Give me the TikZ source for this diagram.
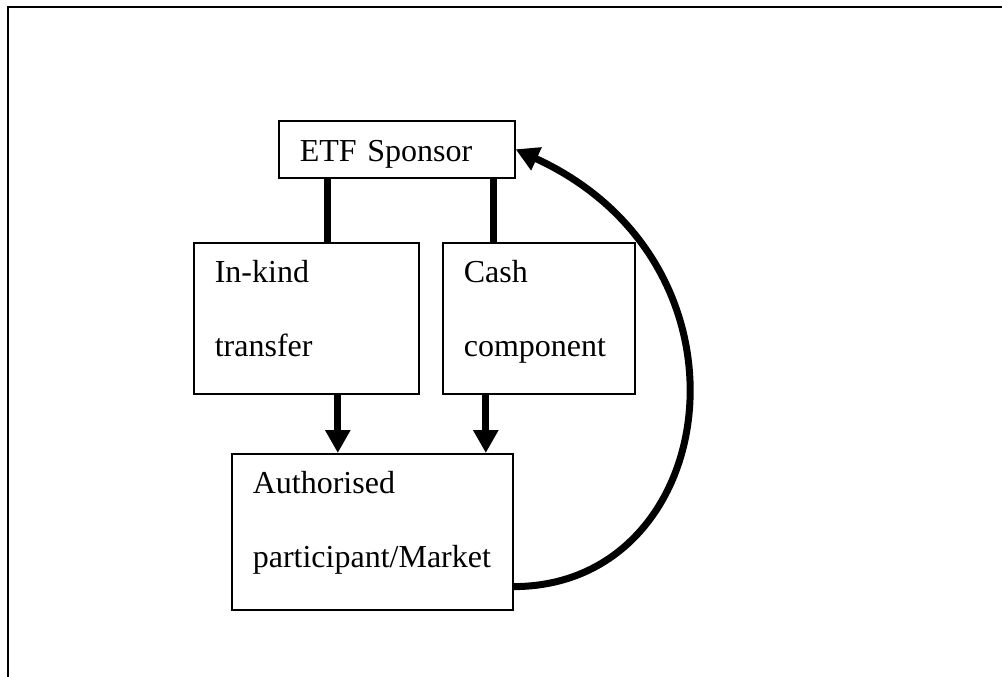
\documentclass[tikz,border=0pt]{standalone}
\usepackage{fontspec}
\setmainfont{Liberation Serif}
\usetikzlibrary{arrows.meta,positioning}

\begin{document}
\begin{tikzpicture}[x=0.75pt,y=-0.75pt,
    >={Triangle[length=17.25pt,width=18pt]},
    flow/.style={->,line width=5.25pt},
    link/.style={line width=5.25pt},
    frame/.style={line width=1.5pt},
    party/.style={draw,line width=1.2pt,anchor=north west,align=left,
      inner xsep=15.75pt,inner ysep=0pt,
      font=\fontsize{24pt}{55.5pt}\selectfont,
      text height=30pt,text depth=83.25pt}
  ]
  \useasboundingbox (0,0) rectangle (1002,677);
  \clip (0,0) rectangle (1002,677);
  \draw[frame] (8,690) -- (8,7) -- (1010,7);

  \node[party,text height=30.75pt,text depth=12pt,text width=145.5pt] (sponsor) at (278,120) {ETF Sponsor};
  \node[party,text width=137.25pt] (inkind) at (193,242) {In-kind\\transfer};
  \node[party,text width=112.5pt] (cash) at (442,242) {Cash\\component};
  \node[party,text width=179.25pt,text depth=87pt] (market) at (231,453) {Authorised\\participant/Market};

  \coordinate (s1) at ([xshift=36.75pt]sponsor.south west);
  \coordinate (s2) at ([xshift=-16.5pt]sponsor.south east);
  \coordinate (d1) at ([xshift=23.625pt]inkind.south);
  \coordinate (d2) at ([xshift=-39.75pt]cash.south);

  \draw[link] (s1) -- (s1 |- inkind.north);
  \draw[link] (s2) -- (s2 |- cash.north);
  \draw[flow] (d1) -- (d1 |- market.north);
  \draw[flow] (d2) -- (d2 |- market.north);
  \draw[flow] ([yshift=18pt]market.south east)
    .. controls +(155.25pt,0pt) and +(189pt,-86.6pt) .. (sponsor.east);
\end{tikzpicture}
\end{document}
